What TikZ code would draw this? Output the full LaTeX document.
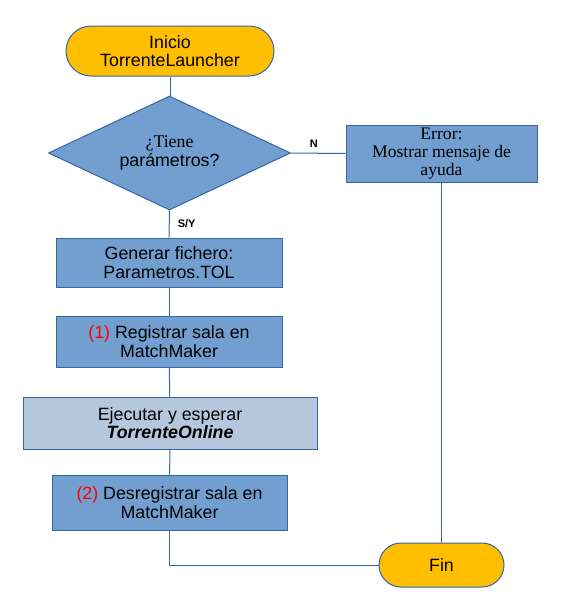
\documentclass[tikz,border=0pt]{standalone}
\usepackage{fontspec}
\setmainfont{Liberation Sans}
\newfontfamily\serifont{Liberation Serif}
\usetikzlibrary{shapes.geometric}
\definecolor{boxblue}{HTML}{729FCF}
\definecolor{lineblue}{HTML}{3465A4}
\definecolor{termorange}{HTML}{FFBF00}
\definecolor{lightbox}{HTML}{B4C7DC}
\definecolor{numred}{HTML}{FF0000}
\tikzset{
  base/.style={draw=lineblue, line width=1pt, align=center, inner sep=0pt,
    font=\fontsize{17.8}{18.5}\selectfont, text=black},
  term/.style={base, fill=termorange, rounded corners=#1},
  procbox/.style={base, fill=boxblue},
  lightproc/.style={base, fill=lightbox},
  decision/.style={base, fill=boxblue, diamond, aspect=1},
  conn/.style={draw=lineblue, line width=1pt},
  lbl/.style={font=\bfseries\fontsize{11}{13}\selectfont, inner sep=0pt}
}
\begin{document}
\begin{tikzpicture}[x=1pt,y=-1pt]
\useasboundingbox (0,0) rectangle (561,616);
\node[term=25pt, minimum width=208pt, minimum height=50pt] (start) at (170,51) {Inicio\\TorrenteLauncher};
\node[decision, minimum width=242pt, minimum height=114pt] (dec) at (169.5,153) {};
\node[align=center, inner sep=0pt, font=\fontsize{17.8}{18.5}\selectfont] (dectext) at (dec.center) {{\serifont ¿Tiene}\\parámetros?};
\node[procbox, minimum width=191pt, minimum height=57pt, font=\serifont\fontsize{17.6}{18}\selectfont] (err) at (441.5,153.5) {Error:\\Mostrar mensaje de\\ayuda};
\node[procbox, minimum width=226pt, minimum height=49pt] (gen) at (169,262.5) {Generar fichero:\\Parametros.TOL};
\node[procbox, minimum width=226pt, minimum height=51pt] (reg) at (169,341.5) {\textcolor{numred}{(1)} Registrar sala en\\MatchMaker};
\node[lightproc, minimum width=294pt, minimum height=52pt] (exe) at (170,423) {Ejecutar y esperar\\\textbf{\textit{TorrenteOnline}}};
\node[procbox, minimum width=235pt, minimum height=55pt] (des) at (169.5,502.5) {\textcolor{numred}{(2)} Desregistrar sala en\\MatchMaker};
\node[term=22pt, minimum width=125pt, minimum height=44pt] (fin) at (441.5,565) {Fin};

\draw[conn] (start.south) -- (start.south |- dec.north);
\draw[conn] (dec.east) -- node[lbl, above=5pt, pos=0.42] (nlbl) {N} (err.west);
\draw[conn] (dec.south) -- node[lbl, right=8pt, pos=0.5] (slbl) {S/Y} (gen.north);
\draw[conn] (gen) -- (reg);
\draw[conn] (reg) -- (exe);
\draw[conn] (exe) -- (des);
\draw[conn] (des.south) |- (fin.west);
\draw[conn] (err.south) -- (fin.north);
\end{tikzpicture}
\end{document}
